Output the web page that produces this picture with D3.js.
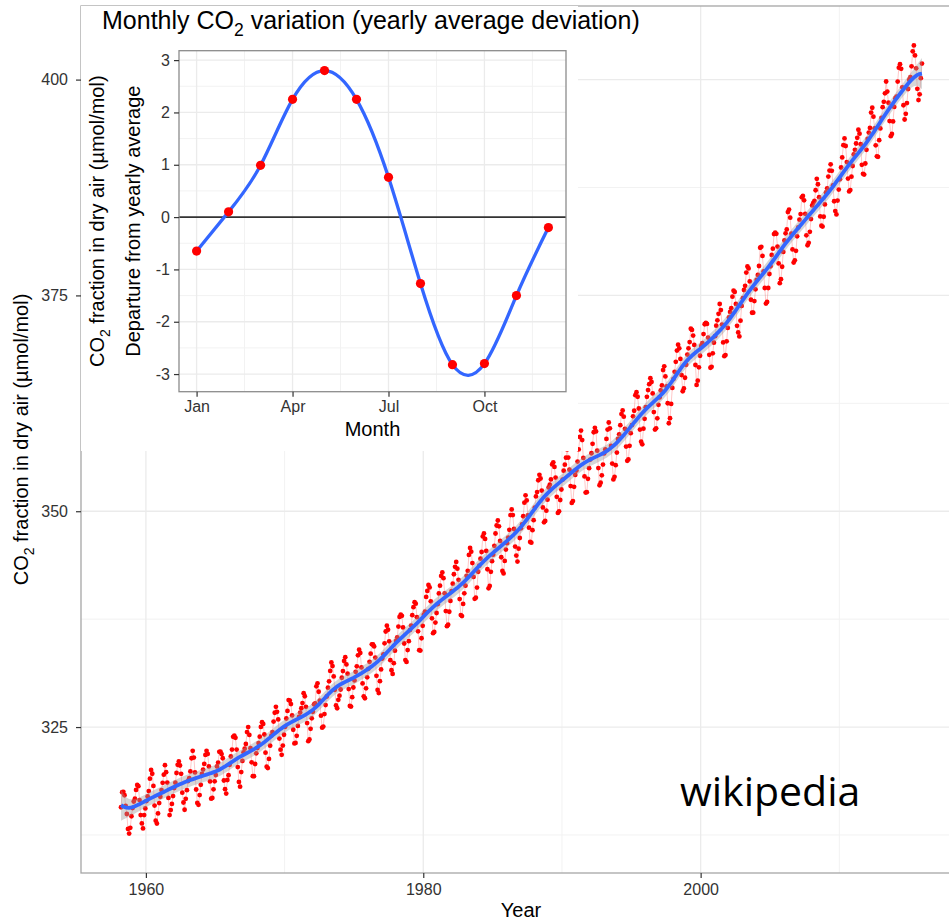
<!DOCTYPE html>
<html>
<head>
<meta charset="utf-8">
<script src="https://cdnjs.cloudflare.com/ajax/libs/d3/7.8.5/d3.min.js"></script>
<style>
body { margin: 0; background: #fff; }
</style>
</head>
<body>
<script>
var width = 949,
    height = 922;

var baseFont = '"Liberation Sans", Arial, Helvetica, sans-serif';

// Mauna Loa monthly mean CO2 (umol/mol), one row per year, first value is March 1958
var startYear = 1958, startMonth = 3;
var co2 = [
  315.71, 317.45, 317.50, 317.10, 315.86, 314.93, 313.20, 312.66, 313.33, 314.67,
  315.62, 316.38, 316.71, 317.72, 318.29, 318.15, 316.54, 314.80, 313.84, 313.26, 314.80, 315.58,
  316.43, 316.97, 317.58, 319.02, 320.03, 319.59, 318.18, 315.91, 314.16, 313.83, 315.00, 316.19,
  316.93, 317.70, 318.54, 319.48, 320.58, 319.77, 318.57, 316.79, 314.80, 315.38, 316.10, 317.01,
  317.94, 318.56, 319.68, 320.63, 321.01, 320.55, 319.58, 317.40, 316.26, 315.42, 316.69, 317.69,
  318.74, 319.08, 319.86, 321.39, 322.25, 321.47, 319.74, 317.77, 316.21, 315.99, 317.12, 318.31,
  319.57, 320.07, 320.73, 321.77, 322.25, 321.89, 320.44, 318.70, 316.70, 316.79, 317.79, 318.71,
  319.44, 320.44, 320.89, 322.13, 322.16, 321.87, 321.39, 318.81, 317.81, 317.30, 318.87, 319.42,
  320.62, 321.59, 322.39, 323.87, 324.01, 323.75, 322.39, 320.37, 318.64, 318.10, 319.79, 321.08,
  322.07, 322.50, 323.04, 324.42, 325.00, 324.09, 322.55, 320.92, 319.31, 319.31, 320.72, 321.96,
  322.57, 323.15, 323.89, 325.02, 325.57, 325.36, 324.14, 322.03, 320.41, 320.25, 321.31, 322.84,
  324.00, 324.42, 325.64, 326.66, 327.34, 326.76, 325.88, 323.67, 322.38, 321.78, 322.85, 324.11,
  325.03, 325.99, 326.87, 328.13, 328.07, 327.66, 326.35, 324.69, 323.10, 323.16, 323.98, 325.13,
  326.17, 326.68, 327.18, 327.78, 328.92, 328.57, 327.34, 325.46, 323.36, 323.57, 324.80, 326.01,
  326.77, 327.63, 327.75, 329.72, 330.07, 329.09, 328.05, 326.32, 324.93, 325.06, 326.50, 327.55,
  328.54, 329.56, 330.30, 331.50, 332.48, 332.07, 330.87, 329.31, 327.51, 327.18, 328.16, 328.64,
  329.35, 330.71, 331.48, 332.65, 333.09, 332.25, 331.18, 329.40, 327.44, 327.37, 328.46, 329.58,
  330.40, 331.40, 332.04, 333.31, 333.96, 333.59, 331.91, 330.06, 328.56, 328.34, 329.49, 330.76,
  331.75, 332.56, 333.50, 334.58, 334.57, 334.34, 333.05, 330.94, 329.30, 328.94, 330.31, 331.68,
  332.93, 333.42, 334.70, 336.07, 336.74, 336.27, 334.93, 332.75, 331.58, 331.16, 332.40, 333.85,
  334.97, 335.39, 336.64, 337.76, 338.01, 337.89, 336.54, 334.68, 332.76, 332.54, 333.92, 334.95,
  336.23, 336.76, 337.96, 338.89, 339.47, 339.29, 337.73, 336.09, 333.91, 333.86, 335.29, 336.73,
  338.01, 338.36, 340.08, 340.77, 341.46, 341.17, 339.56, 337.60, 335.88, 336.01, 337.10, 338.21,
  339.24, 340.48, 341.38, 342.51, 342.91, 342.25, 340.49, 338.43, 336.69, 336.85, 338.36, 339.61,
  340.75, 341.61, 342.70, 343.56, 344.13, 343.35, 342.06, 339.82, 337.97, 337.86, 339.26, 340.49,
  341.38, 342.52, 343.10, 344.94, 345.75, 345.32, 343.99, 342.39, 339.86, 339.99, 341.16, 342.99,
  343.70, 344.51, 345.28, 347.08, 347.43, 346.79, 345.40, 343.28, 341.07, 341.35, 342.98, 344.22,
  344.97, 345.99, 347.42, 348.35, 348.93, 348.25, 346.56, 344.67, 343.09, 342.80, 344.24, 345.56,
  346.30, 346.95, 347.85, 349.55, 350.21, 349.55, 347.94, 345.91, 344.86, 344.17, 345.66, 346.90,
  348.02, 348.47, 349.42, 350.99, 351.84, 351.25, 349.52, 348.10, 346.44, 346.36, 347.81, 348.96,
  350.43, 351.72, 352.22, 353.59, 354.22, 353.79, 352.39, 350.44, 348.72, 348.88, 350.07, 351.34,
  352.76, 353.07, 353.68, 355.42, 355.67, 355.13, 353.90, 351.67, 349.80, 349.99, 351.30, 352.52,
  353.66, 354.70, 355.39, 356.20, 357.16, 356.22, 354.82, 352.91, 350.96, 351.18, 352.83, 354.21,
  354.72, 355.75, 357.16, 358.60, 359.34, 358.24, 356.17, 354.03, 352.16, 352.21, 353.75, 354.99,
  355.98, 356.72, 357.81, 359.15, 359.66, 359.25, 357.02, 355.00, 353.01, 353.31, 354.16, 355.40,
  356.70, 357.16, 358.38, 359.46, 360.28, 359.60, 357.57, 355.52, 353.69, 353.99, 355.34, 356.80,
  358.37, 358.91, 359.97, 361.26, 361.68, 360.95, 359.55, 357.49, 355.84, 356.00, 357.58, 359.04,
  359.97, 361.00, 361.64, 363.45, 363.79, 363.26, 361.90, 359.46, 358.06, 357.75, 359.56, 360.70,
  362.05, 363.25, 364.03, 364.72, 365.41, 364.97, 363.65, 361.49, 359.46, 359.60, 360.76, 362.33,
  363.18, 364.00, 364.57, 366.35, 366.79, 365.62, 364.47, 362.51, 360.19, 360.77, 362.43, 364.28,
  365.32, 366.15, 367.31, 368.61, 369.29, 368.87, 367.64, 365.77, 363.90, 364.23, 365.46, 366.97,
  368.15, 368.87, 369.59, 371.14, 371.00, 370.35, 369.27, 366.94, 364.63, 365.12, 366.67, 368.01,
  369.14, 369.46, 370.52, 371.66, 371.82, 371.70, 370.12, 368.12, 366.62, 366.73, 368.29, 369.53,
  370.28, 371.50, 372.12, 372.87, 374.02, 373.30, 371.62, 369.55, 367.96, 368.09, 369.68, 371.24,
  372.44, 373.08, 373.52, 374.85, 375.55, 375.40, 374.02, 371.48, 370.71, 370.25, 372.08, 373.78,
  374.68, 375.63, 376.11, 377.65, 378.35, 378.13, 376.62, 374.50, 372.99, 373.00, 374.35, 375.70,
  376.79, 377.37, 378.41, 380.52, 380.63, 379.57, 377.79, 375.86, 374.06, 374.24, 375.86, 377.48,
  378.37, 379.69, 380.41, 382.10, 382.28, 382.13, 380.66, 378.71, 376.42, 376.88, 378.32, 380.04,
  381.36, 382.19, 382.65, 384.65, 384.94, 384.01, 382.15, 380.33, 378.81, 379.06, 380.17, 381.85,
  382.88, 383.77, 384.42, 386.36, 386.53, 386.01, 384.45, 381.96, 380.81, 381.09, 382.37, 383.84,
  385.42, 385.72, 385.96, 387.18, 388.50, 387.88, 386.38, 384.15, 383.07, 382.98, 384.11, 385.54,
  386.92, 387.41, 388.77, 389.46, 390.18, 389.43, 387.74, 385.91, 384.77, 384.38, 385.99, 387.26,
  388.45, 389.82, 390.98, 392.40, 393.18, 392.31, 390.45, 388.54, 387.05, 387.20, 388.76, 389.99,
  391.33, 391.86, 392.60, 393.25, 394.19, 393.73, 392.51, 390.13, 389.08, 389.00, 390.28, 391.86,
  393.12, 393.86, 394.40, 396.18, 396.74, 395.71, 394.36, 392.39, 391.11, 391.05, 392.98, 394.34,
  395.55, 396.80, 397.43, 398.41, 399.78, 398.61, 397.32, 395.20, 393.45, 393.70, 395.16, 396.84,
  397.85, 398.01, 399.77, 401.38, 401.78, 401.25, 399.10, 397.03, 395.38, 396.03, 397.28, 398.91,
  399.98, 400.28, 401.54, 403.28, 403.96, 402.80, 401.31, 398.93, 397.63, 398.29, 400.16, 401.85
];

// inset: average departure from the yearly mean, by month
var months = [1, 2, 3, 4, 5, 6, 7, 8, 9, 10, 11, 12];
var monthDeviation = [-0.65, 0.10, 0.99, 2.25, 2.80, 2.25, 0.76, -1.27, -2.82, -2.80, -1.50, -0.20];

// axis ticks
var yearTicks = [1960, 1980, 2000];
var yearMinor = [1970, 1990, 2010];
var co2Ticks = [325, 350, 375, 400];
var co2Minor = [312.5, 337.5, 362.5, 387.5];
var monthTicks = [1, 4, 7, 10];
var monthTickLabels = ['Jan', 'Apr', 'Jul', 'Oct'];
var monthMinor = [2.5, 5.5, 8.5, 11.5];
var devTicks = [-3, -2, -1, 0, 1, 2, 3];
var devMinor = [-2.5, -1.5, -0.5, 0.5, 1.5, 2.5];

// decimal dates, as in the NOAA file (middle of month)
var series = co2.map(function(v, i) {
    var m = startMonth - 1 + i;
    return { t: startYear + Math.floor(m / 12) + ((m % 12) + 0.5) / 12, v: v };
});

// ggplot style 5% expansion
function expand(ext) {
    var d = (ext[1] - ext[0]) * 0.05;
    return [ext[0] - d, ext[1] + d];
}

var panel = { left: 81, top: 6, right: 962, bottom: 873 };

var x = d3.scaleLinear()
    .domain(expand(d3.extent(series, function(d) { return d.t; })))
    .range([panel.left, panel.right]);
var y = d3.scaleLinear()
    .domain(expand(d3.extent(series, function(d) { return d.v; })))
    .range([panel.bottom, panel.top]);

var svg = d3.select('body').append('svg')
    .attr('width', width)
    .attr('height', height)
    .style('font-family', baseFont);

svg.append('defs').append('clipPath').attr('id', 'clip')
  .append('rect')
    .attr('x', panel.left).attr('y', panel.top)
    .attr('width', panel.right - panel.left).attr('height', panel.bottom - panel.top);

// grid
var grid = svg.append('g');
grid.selectAll('.ymin').data(co2Minor).enter().append('line')
    .attr('x1', panel.left).attr('x2', panel.right)
    .attr('y1', y).attr('y2', y)
    .attr('stroke', '#f2f2f2').attr('stroke-width', 1);
grid.selectAll('.xmin').data(yearMinor).enter().append('line')
    .attr('x1', x).attr('x2', x)
    .attr('y1', panel.top).attr('y2', panel.bottom)
    .attr('stroke', '#f2f2f2').attr('stroke-width', 1);
grid.selectAll('.ymaj').data(co2Ticks).enter().append('line')
    .attr('x1', panel.left).attr('x2', panel.right)
    .attr('y1', y).attr('y2', y)
    .attr('stroke', '#ebebeb').attr('stroke-width', 1.3);
grid.selectAll('.xmaj').data(yearTicks).enter().append('line')
    .attr('x1', x).attr('x2', x)
    .attr('y1', panel.top).attr('y2', panel.bottom)
    .attr('stroke', '#ebebeb').attr('stroke-width', 1.3);

// smooth: local linear regression with gaussian weights (stat_smooth stand in)
var bw = 0.7;
function localFit(t0) {
    var s0 = 0, s1 = 0, s2 = 0;
    var w = series.map(function(p) {
        var d = p.t - t0,
            wi = Math.exp(-0.5 * d * d / (bw * bw));
        s0 += wi; s1 += wi * d; s2 += wi * d * d;
        return wi;
    });
    var den = s0 * s2 - s1 * s1, fit = 0, ll = 0;
    series.forEach(function(p, i) {
        var li = w[i] * (s2 - (p.t - t0) * s1) / den;
        fit += li * p.v;
        ll += li * li;
    });
    return { fit: fit, ll: ll };
}

var resid = series.map(function(p) { return p.v - localFit(p.t).fit; });
var sigma = Math.sqrt(d3.sum(resid, function(r) { return r * r; }) / (resid.length - 2));

var tExt = d3.extent(series, function(d) { return d.t; });
var smooth = d3.range(0, 301).map(function(k) {
    var t = tExt[0] + (tExt[1] - tExt[0]) * k / 300;
    var f = localFit(t);
    var se = 1.96 * sigma * Math.sqrt(f.ll);
    return { t: t, v: f.fit, lo: f.fit - se, hi: f.fit + se };
});

var plot = svg.append('g').attr('clip-path', 'url(#clip)');

plot.append('path')
    .datum(series)
    .attr('d', d3.line().x(function(d) { return x(d.t); }).y(function(d) { return y(d.v); }))
    .attr('fill', 'none')
    .attr('stroke', 'rgba(255,0,0,0.22)')
    .attr('stroke-width', 1);

plot.selectAll('circle').data(series).enter().append('circle')
    .attr('cx', function(d) { return x(d.t); })
    .attr('cy', function(d) { return y(d.v); })
    .attr('r', 2.4)
    .attr('fill', '#ff0000');

plot.append('path')
    .datum(smooth)
    .attr('d', d3.area()
        .x(function(d) { return x(d.t); })
        .y0(function(d) { return y(d.lo); })
        .y1(function(d) { return y(d.hi); }))
    .attr('fill', '#999999')
    .attr('fill-opacity', 0.4);

plot.append('path')
    .datum(smooth)
    .attr('d', d3.line().x(function(d) { return x(d.t); }).y(function(d) { return y(d.v); }))
    .attr('fill', 'none')
    .attr('stroke', '#3366ff')
    .attr('stroke-width', 3.8);

// main axes
svg.append('rect')
    .attr('x', panel.left).attr('y', panel.top)
    .attr('width', panel.right - panel.left).attr('height', panel.bottom - panel.top)
    .attr('fill', 'none').attr('stroke', '#a6a6a6').attr('stroke-width', 1.3);

function styleAxis(a) {
    a.select('.domain').remove();
    a.selectAll('line').attr('stroke', '#333').attr('stroke-width', 1.2);
    a.selectAll('text').attr('fill', '#333').style('font-size', '16px')
        .style('font-family', baseFont);
}

svg.append('g')
    .attr('transform', 'translate(' + panel.left + ',0)')
    .call(d3.axisLeft(y).tickValues(co2Ticks).tickSize(5).tickPadding(8))
    .call(styleAxis);
svg.append('g')
    .attr('transform', 'translate(0,' + panel.bottom + ')')
    .call(d3.axisBottom(x).tickValues(yearTicks).tickFormat(d3.format('d')).tickSize(5).tickPadding(6))
    .call(styleAxis);

// CO2 with subscript
function co2Text(sel, before, after, fs) {
    sel.append('tspan').text(before + 'CO');
    sel.append('tspan').style('font-size', (fs * 0.7) + 'px').attr('dy', fs * 0.28).text('2');
    sel.append('tspan').attr('dy', -fs * 0.28).text(after);
}

svg.append('text')
    .attr('transform', 'translate(28,' + ((panel.top + panel.bottom) / 2) + ') rotate(-90)')
    .attr('text-anchor', 'middle').style('font-size', '20px').attr('fill', '#000')
    .call(co2Text, '', ' fraction in dry air (\u00b5mol/mol)', 20);

svg.append('text')
    .attr('x', 521).attr('y', 917)
    .attr('text-anchor', 'middle').style('font-size', '20px').attr('fill', '#000')
    .text('Year');

// inset
var inset = svg.append('g');
inset.append('rect')
    .attr('x', panel.left).attr('y', panel.top)
    .attr('width', 578 - panel.left).attr('height', 451 - panel.top)
    .attr('fill', '#fff');

var ip = { left: 179, top: 50.7, right: 566, bottom: 391.7 };
var ix = d3.scaleLinear().domain([0.45, 12.55]).range([ip.left, ip.right]);
var iy = d3.scaleLinear().domain([-3.337, 3.18]).range([ip.bottom, ip.top]);

inset.selectAll('.iymin').data(devMinor).enter().append('line')
    .attr('x1', ip.left).attr('x2', ip.right).attr('y1', iy).attr('y2', iy)
    .attr('stroke', '#f2f2f2').attr('stroke-width', 1);
inset.selectAll('.ixmin').data(monthMinor).enter().append('line')
    .attr('x1', ix).attr('x2', ix).attr('y1', ip.top).attr('y2', ip.bottom)
    .attr('stroke', '#f2f2f2').attr('stroke-width', 1);
inset.selectAll('.iymaj').data(devTicks).enter().append('line')
    .attr('x1', ip.left).attr('x2', ip.right).attr('y1', iy).attr('y2', iy)
    .attr('stroke', '#ebebeb').attr('stroke-width', 1.3);
inset.selectAll('.ixmaj').data(monthTicks).enter().append('line')
    .attr('x1', ix).attr('x2', ix).attr('y1', ip.top).attr('y2', ip.bottom)
    .attr('stroke', '#ebebeb').attr('stroke-width', 1.3);

inset.append('line')
    .attr('x1', ip.left).attr('x2', ip.right)
    .attr('y1', iy(0)).attr('y2', iy(0))
    .attr('stroke', '#333').attr('stroke-width', 1.6);

var monthPts = months.map(function(m, i) { return { m: m, v: monthDeviation[i] }; });

inset.append('path')
    .datum(monthPts)
    .attr('d', d3.line().curve(d3.curveNatural)
        .x(function(d) { return ix(d.m); })
        .y(function(d) { return iy(d.v); }))
    .attr('fill', 'none')
    .attr('stroke', '#3366ff')
    .attr('stroke-width', 3.3);

inset.selectAll('circle').data(monthPts).enter().append('circle')
    .attr('cx', function(d) { return ix(d.m); })
    .attr('cy', function(d) { return iy(d.v); })
    .attr('r', 4.6)
    .attr('fill', '#ff0000');

inset.append('rect')
    .attr('x', ip.left).attr('y', ip.top)
    .attr('width', ip.right - ip.left).attr('height', ip.bottom - ip.top)
    .attr('fill', 'none').attr('stroke', '#8c8c8c').attr('stroke-width', 1.3);

inset.append('g')
    .attr('transform', 'translate(' + ip.left + ',0)')
    .call(d3.axisLeft(iy).tickValues(devTicks).tickFormat(String).tickSize(5).tickPadding(4))
    .call(styleAxis);
inset.append('g')
    .attr('transform', 'translate(0,' + ip.bottom + ')')
    .call(d3.axisBottom(ix).tickValues(monthTicks)
        .tickFormat(function(d, i) { return monthTickLabels[i]; })
        .tickSize(5).tickPadding(4))
    .call(styleAxis);

inset.append('text')
    .attr('x', 102).attr('y', 29)
    .style('font-size', '25px').attr('fill', '#000')
    .call(co2Text, 'Monthly ', ' variation (yearly average deviation)', 25);

var icy = (ip.top + ip.bottom) / 2;
inset.append('text')
    .attr('transform', 'translate(104,' + icy + ') rotate(-90)')
    .attr('text-anchor', 'middle').style('font-size', '20px').attr('fill', '#000')
    .call(co2Text, '', ' fraction in dry air (\u00b5mol/mol)', 20);
inset.append('text')
    .attr('transform', 'translate(140,' + icy + ') rotate(-90)')
    .attr('text-anchor', 'middle').style('font-size', '20px').attr('fill', '#000')
    .text('Departure from yearly average');

inset.append('text')
    .attr('x', (ip.left + ip.right) / 2).attr('y', 436)
    .attr('text-anchor', 'middle').style('font-size', '20px').attr('fill', '#000')
    .text('Month');

// watermark
svg.append('text')
    .attr('x', 680).attr('y', 806)
    .style('font-family', '"Open Sans", "Noto Sans", sans-serif')
    .style('font-size', '41px').attr('fill', '#000')
    .text('wikipedia');
</script>
</body>
</html>
